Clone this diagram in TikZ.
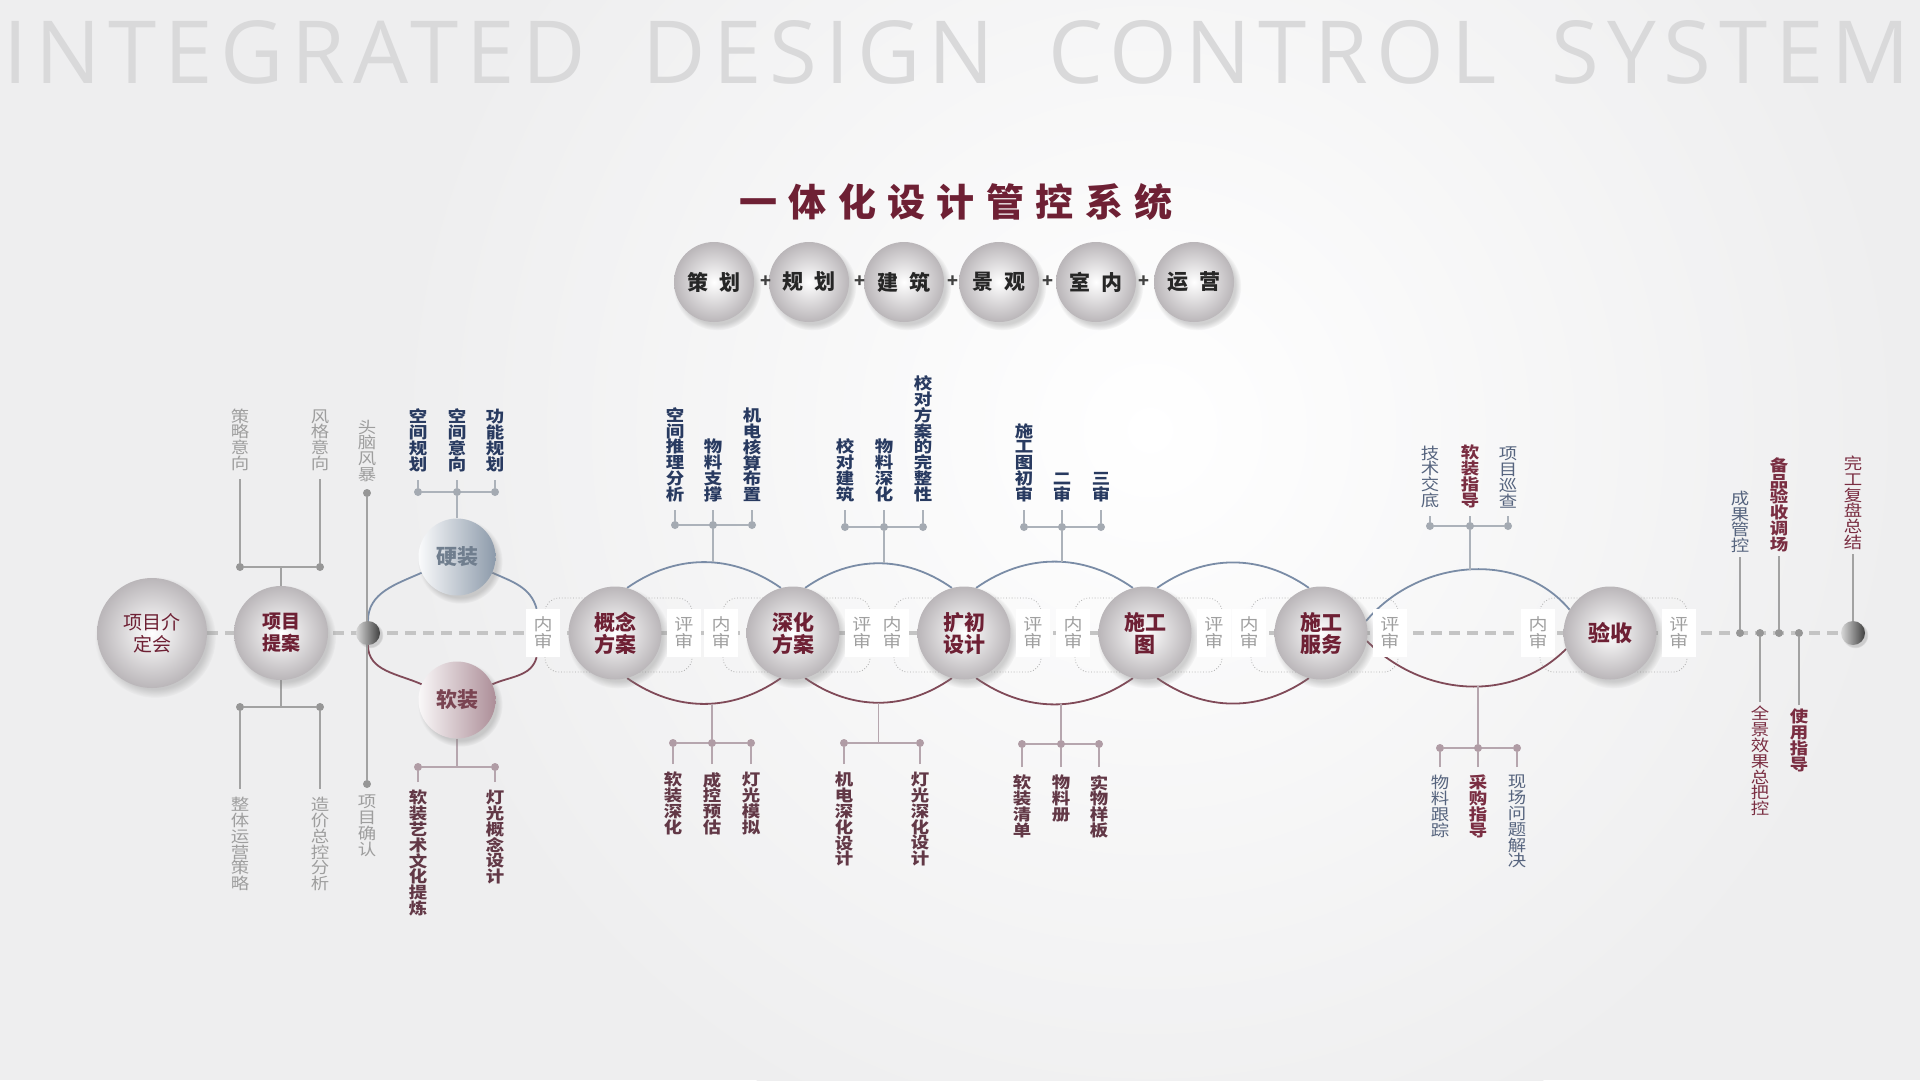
\documentclass[tikz,border=0pt]{standalone}
\usepackage{fontspec}
\setmainfont{Noto Sans CJK SC}
\newfontfamily\bannerfont[LetterSpace=9]{Open Sans}
\newfontfamily\headfont[LetterSpace=30]{Noto Sans CJK SC}
\newfontfamily\tagfont[FakeStretch=1.15]{Noto Sans CJK SC}
\usepackage{xcolor}
\usepackage{tikz}
\usetikzlibrary{positioning,shadows,backgrounds}

% let CJK strings break between characters (stacked labels)
\XeTeXlinebreaklocale "zh"
\XeTeXlinebreakskip=0pt plus 1pt
\lineskiplimit=-20pt

\definecolor{wine}{RGB}{110,32,52}
\definecolor{rosewood}{RGB}{122,46,66}
\definecolor{navy}{RGB}{40,58,96}
\definecolor{mauve}{RGB}{98,56,70}
\definecolor{slate}{RGB}{86,100,126}
\definecolor{ashtext}{RGB}{158,158,158}
\definecolor{arcblue}{RGB}{122,140,166}
\definecolor{arcred}{RGB}{128,74,88}
\definecolor{twigtop}{RGB}{172,178,186}
\definecolor{twigbot}{RGB}{182,166,174}
\definecolor{twigash}{RGB}{162,162,162}
\definecolor{beadtop}{RGB}{164,170,178}
\definecolor{beadbot}{RGB}{176,156,165}
\definecolor{beadash}{RGB}{150,150,150}
\definecolor{dashgray}{RGB}{196,196,196}
\definecolor{revgray}{RGB}{160,160,160}
\definecolor{framegray}{RGB}{170,170,170}
\definecolor{ballrim}{RGB}{186,182,185}
\definecolor{hardedge}{RGB}{140,154,170}
\definecolor{softedge}{RGB}{172,142,152}
\definecolor{hardtext}{RGB}{112,126,142}
\definecolor{softtext}{RGB}{122,68,82}
\definecolor{paper}{RGB}{238,238,239}
\definecolor{bannergray}{RGB}{217,217,218}

\begin{document}
\begin{tikzpicture}[x=1pt, y=-1pt,
  stage/.style={circle, minimum size=93pt, inner sep=0pt, inner color=white, outer color=ballrim,
    circular drop shadow={shadow xshift=3pt, shadow yshift=-4pt, opacity=0.35},
    text=wine, align=center, font=\bfseries\fontsize{21}{22}\selectfont},
  topball/.style={stage, minimum size=80pt, text=black!85, font=\bfseries\fontsize{21}{22}\selectfont},
  hardball/.style={stage, minimum size=77pt, left color=white!96!arcblue, right color=hardedge, text=hardtext},
  softball/.style={stage, minimum size=77pt, left color=white!96!arcred, right color=softedge, text=softtext},
  knob/.style={circle, minimum size=24pt, inner sep=0pt, left color=black!15, right color=black!75,
    circular drop shadow={shadow xshift=2pt, shadow yshift=-2pt, opacity=0.3}},
  joiner/.style={text=black!75, font=\bfseries\fontsize{18}{20}\selectfont},
  review/.style={fill=white, text=revgray, align=center, inner sep=0pt, minimum width=34pt,
    minimum height=48pt, font=\tagfont\fontsize{16.5}{17}\selectfont},
  revframe/.style={draw=framegray, dotted, line width=0.8pt, rounded corners=14pt},
  tag/.style={text width=22pt, align=center, inner sep=0pt},
  ghost/.style={tag, text=ashtext, font=\tagfont\fontsize{16}{15.8}\selectfont},
  navytag/.style={tag, text=navy, font=\tagfont\bfseries\fontsize{16}{15.8}\selectfont},
  mauvetag/.style={tag, text=mauve, font=\tagfont\bfseries\fontsize{16}{15.8}\selectfont},
  slatetag/.style={tag, text=slate, font=\tagfont\fontsize{16}{15.8}\selectfont},
  rosetag/.style={tag, text=rosewood, font=\tagfont\bfseries\fontsize{16}{15.8}\selectfont},
  bead/.style={circle, inner sep=0pt, minimum size=8pt, fill=beadtop},
  twig/.style={line width=1.2pt},
  toparc/.style={draw=arcblue, line width=1.8pt},
  botarc/.style={draw=arcred, line width=1.8pt},
  mainline/.style={draw=dashgray, line width=3.5pt, dash pattern=on 11pt off 7pt}
]

% Page and backdrop
\useasboundingbox (0,0) rectangle (1920,1080);
\begin{scope}[on background layer]
\fill[paper] (0,0) rectangle (1920,1080);
\shade[inner color=white, outer color=paper] (1150,430) circle (760pt);
\end{scope}

% Titles
\node[anchor=base west, inner sep=0pt, text=bannergray, font=\bannerfont\fontsize{87}{90}\selectfont] (banner) at (3,83) {INTEGRATED\hspace{26pt} DESIGN\hspace{24pt} CONTROL\hspace{24pt} SYSTEM};
\node[text=wine, font=\headfont\bfseries\fontsize{38}{42}\selectfont] (headline) at (956,202) {一体化设计管控系统};

% Disciplines row
\node[topball] (plan) at (714,282) {策\enspace 划};
\node[topball] (zoning) at (809,282) {规\enspace 划};
\node[topball] (arch) at (904,282) {建\enspace 筑};
\node[topball] (land) at (999,282) {景\enspace 观};
\node[topball] (inter) at (1096,282) {室\enspace 内};
\node[topball] (ops) at (1194,282) {运\enspace 营};
\node[joiner] (join1) at (766,282) {+};
\node[joiner] (join2) at (860,282) {+};
\node[joiner] (join3) at (953,282) {+};
\node[joiner] (join4) at (1048,282) {+};
\node[joiner] (join5) at (1144,282) {+};

% Stages on the main line
\node[stage, minimum size=110pt, font=\fontsize{19}{22}\selectfont] (kickoff) at (152,633) {项目介\\定会};
\node[stage, minimum size=94pt, font=\bfseries\fontsize{19}{22}\selectfont] (proposal) at (281,633) {项目\\提案};
\node[knob] (hub) at (368,633) {};
\node[hardball] (hard) at (457,557) {硬装};
\node[softball] (soft) at (457,700) {软装};
\node[stage] (concept) at (615,633) {概念\\方案};
\node[stage] (deep) at (793,633) {深化\\方案};
\node[stage] (prelim) at (964,633) {扩初\\设计};
\node[stage] (cdraw) at (1145,633) {施工\\图};
\node[stage] (service) at (1321,633) {施工\\服务};
\node[stage, font=\bfseries\fontsize{22}{24}\selectfont] (accept) at (1610,633) {验收};
\node[knob] (finish) at (1853,633) {};

% Review labels
\node[review, left=8pt of concept] (conceptin) {内\\审};
\node[review, right=5pt of concept] (conceptout) {评\\审};
\node[review, left=8pt of deep] (deepin) {内\\审};
\node[review, right=5pt of deep] (deepout) {评\\审};
\node[review, left=8pt of prelim] (prelimin) {内\\审};
\node[review, right=5pt of prelim] (prelimout) {评\\审};
\node[review, left=8pt of cdraw] (cdrawin) {内\\审};
\node[review, right=5pt of cdraw] (cdrawout) {评\\审};
\node[review, left=8pt of service] (servicein) {内\\审};
\node[review, right=5pt of service] (serviceout) {评\\审};
\node[review, left=8pt of accept] (acceptin) {内\\审};
\node[review, right=5pt of accept] (acceptout) {评\\审};

% Proposal branches
\node[ghost, anchor=south] (pa1) at (240,471) {策略意向};
\node[ghost, anchor=south] (pa2) at (320,471) {风格意向};
\node[bead, fill=beadash] (pa1d) at (240,567) {};
\node[bead, fill=beadash] (pa2d) at (320,567) {};
\node[ghost, anchor=north] (pb1) at (240,797) {整体运营策略};
\node[ghost, anchor=north] (pb2) at (320,797) {造价总控分析};
\node[bead, fill=beadash] (pb1d) at (240,707) {};
\node[bead, fill=beadash] (pb2d) at (320,707) {};

% Hub branches
\node[ghost, anchor=south] (ha) at (367,482) {头脑风暴};
\node[bead, fill=beadash] (had) at (367,493) {};
\node[ghost, anchor=north] (hb) at (367,795) {项目确认};
\node[bead, fill=beadash] (hbd) at (367,784) {};

% Hard / soft branches
\node[navytag, anchor=south] (hd1) at (418,472) {空间规划};
\node[navytag, anchor=south] (hd2) at (457,472) {空间意向};
\node[navytag, anchor=south] (hd3) at (495,472) {功能规划};
\node[bead] (hd1d) at (418,492) {};
\node[bead] (hd2d) at (457,492) {};
\node[bead] (hd3d) at (495,492) {};
\node[mauvetag, anchor=north] (sf1) at (418,790) {软装艺术文化提炼};
\node[mauvetag, anchor=north] (sf2) at (495,790) {灯光概念设计};
\node[bead, fill=beadbot] (sf1d) at (418,767) {};
\node[bead, fill=beadbot] (sf2d) at (495,767) {};

% Concept to deepening
\node[navytag, anchor=south] (at1) at (675,502) {空间推理分析};
\node[navytag, anchor=south] (at2) at (713,502) {物料支撑};
\node[navytag, anchor=south] (at3) at (752,502) {机电核算布置};
\node[bead] (at1d) at (675,525) {};
\node[bead] (at2d) at (713,525) {};
\node[bead] (at3d) at (752,525) {};
\node[mauvetag, anchor=north] (ab1) at (673,772) {软装深化};
\node[mauvetag, anchor=north] (ab2) at (712,772) {成控预估};
\node[mauvetag, anchor=north] (ab3) at (751,772) {灯光模拟};
\node[bead, fill=beadbot] (ab1d) at (673,743) {};
\node[bead, fill=beadbot] (ab2d) at (712,743) {};
\node[bead, fill=beadbot] (ab3d) at (751,743) {};

% Deepening to preliminary
\node[navytag, anchor=south] (bt1) at (845,502) {校对建筑};
\node[navytag, anchor=south] (bt2) at (884,502) {物料深化};
\node[navytag, anchor=south] (bt3) at (923,502) {校对方案的完整性};
\node[bead] (bt1d) at (845,527) {};
\node[bead] (bt2d) at (884,527) {};
\node[bead] (bt3d) at (923,527) {};
\node[mauvetag, anchor=north] (bb1) at (844,772) {机电深化设计};
\node[mauvetag, anchor=north] (bb2) at (920,772) {灯光深化设计};
\node[bead, fill=beadbot] (bb1d) at (844,743) {};
\node[bead, fill=beadbot] (bb2d) at (920,743) {};

% Preliminary to construction drawings
\node[navytag, anchor=south] (ct1) at (1024,502) {施工图初审};
\node[navytag, anchor=south] (ct2) at (1062,502) {二审};
\node[navytag, anchor=south] (ct3) at (1101,502) {三审};
\node[bead] (ct1d) at (1024,527) {};
\node[bead] (ct2d) at (1062,527) {};
\node[bead] (ct3d) at (1101,527) {};
\node[mauvetag, anchor=north] (cb1) at (1022,775) {软装清单};
\node[mauvetag, anchor=north] (cb2) at (1061,775) {物料册};
\node[mauvetag, anchor=north] (cb3) at (1099,775) {实物样板};
\node[bead, fill=beadbot] (cb1d) at (1022,744) {};
\node[bead, fill=beadbot] (cb2d) at (1061,744) {};
\node[bead, fill=beadbot] (cb3d) at (1099,744) {};

% Site service to acceptance
\node[slatetag, anchor=south] (et1) at (1430,508) {技术交底};
\node[rosetag, anchor=south] (et2) at (1470,508) {软装指导};
\node[slatetag, anchor=south] (et3) at (1508,508) {项目巡查};
\node[bead] (et1d) at (1430,526) {};
\node[bead] (et2d) at (1470,526) {};
\node[bead] (et3d) at (1508,526) {};
\node[slatetag, anchor=north] (eb1) at (1440,775) {物料跟踪};
\node[rosetag, anchor=north] (eb2) at (1478,775) {采购指导};
\node[slatetag, anchor=north] (eb3) at (1517,775) {现场问题解决};
\node[bead, fill=beadbot] (eb1d) at (1440,748) {};
\node[bead, fill=beadbot] (eb2d) at (1478,748) {};
\node[bead, fill=beadbot] (eb3d) at (1517,748) {};

% After acceptance
\node[slatetag, anchor=south] (rk1) at (1740,553) {成果管控};
\node[rosetag, font=\tagfont\fontsize{16}{15.8}\selectfont, anchor=north] (rk2) at (1760,706) {全景效果总把控};
\node[rosetag, anchor=south] (rk3) at (1779,552) {备品验收调场};
\node[rosetag, anchor=north] (rk4) at (1799,709) {使用指导};
\node[rosetag, font=\tagfont\fontsize{16}{15.8}\selectfont, anchor=south] (rk5) at (1853,550) {完工复盘总结};
\node[bead, fill=beadash] (rk1d) at (1740,633) {};
\node[bead, fill=beadash] (rk2d) at (1760,633) {};
\node[bead, fill=beadash] (rk3d) at (1779,633) {};
\node[bead, fill=beadash] (rk4d) at (1799,633) {};

\begin{scope}[on background layer]
% main line and review frames
\draw[mainline] (kickoff) -- (finish);
\draw[revframe] ([shift={(-70,-35)}]concept.center) rectangle ([shift={(77,39)}]concept.center);
\draw[revframe] ([shift={(-70,-35)}]deep.center) rectangle ([shift={(77,39)}]deep.center);
\draw[revframe] ([shift={(-70,-35)}]prelim.center) rectangle ([shift={(77,39)}]prelim.center);
\draw[revframe] ([shift={(-70,-35)}]cdraw.center) rectangle ([shift={(77,39)}]cdraw.center);
\draw[revframe] ([shift={(-70,-35)}]service.center) rectangle ([shift={(77,39)}]service.center);
\draw[revframe] ([shift={(-70,-35)}]accept.center) rectangle ([shift={(77,39)}]accept.center);

% hard / soft split
\draw[toparc] (hub) to[out=90,in=204] (hard) to[out=-24,in=105] (conceptin);
\draw[botarc] (hub) to[out=-90,in=156] (soft) to[out=24,in=-105] (conceptin);

% stage lenses
\draw[toparc] (concept.75) to[out=35,in=145] coordinate[pos=0.5] (lensAt) (deep.105);
\draw[botarc] (concept.-75) to[out=-35,in=-145] coordinate[pos=0.5] (lensAb) (deep.-105);
\draw[toparc] (deep.75) to[out=35,in=145] coordinate[pos=0.5] (lensBt) (prelim.105);
\draw[botarc] (deep.-75) to[out=-35,in=-145] coordinate[pos=0.5] (lensBb) (prelim.-105);
\draw[toparc] (prelim.75) to[out=35,in=145] coordinate[pos=0.5] (lensCt) (cdraw.105);
\draw[botarc] (prelim.-75) to[out=-35,in=-145] coordinate[pos=0.5] (lensCb) (cdraw.-105);
\draw[toparc] (cdraw.75) to[out=35,in=145] (service.105);
\draw[botarc] (cdraw.-75) to[out=-35,in=-145] (service.-105);
\draw[toparc] (service.15) to[out=50,in=130] coordinate[pos=0.5] (lensEt) (accept.150);
\draw[botarc] (service.-10) to[out=-45,in=-135] coordinate[pos=0.5] (lensEb) (accept.-160);

% proposal and hub twigs
\draw[twig, twigash, shorten <=8pt] (pa1) -- (pa1d);
\draw[twig, twigash, shorten <=8pt] (pa2) -- (pa2d);
\draw[twig, twigash] (pa1d) -- (pa2d);
\draw[twig, twigash] (proposal) -- (proposal |- pa1d);
\draw[twig, twigash, shorten <=8pt] (pb1) -- (pb1d);
\draw[twig, twigash, shorten <=8pt] (pb2) -- (pb2d);
\draw[twig, twigash] (pb1d) -- (pb2d);
\draw[twig, twigash] (proposal) -- (proposal |- pb1d);
\draw[twig, twigash] (had) -- (hbd);

% hard / soft twigs
\draw[twig, twigtop, shorten <=8pt] (hd1) -- (hd1d);
\draw[twig, twigtop, shorten <=8pt] (hd2) -- (hd2d);
\draw[twig, twigtop, shorten <=8pt] (hd3) -- (hd3d);
\draw[twig, twigtop] (hd1d) -- (hd3d);
\draw[twig, twigtop] (hard) -- (hd2d);
\draw[twig, twigbot, shorten <=8pt] (sf1) -- (sf1d);
\draw[twig, twigbot, shorten <=8pt] (sf2) -- (sf2d);
\draw[twig, twigbot] (sf1d) -- (sf2d);
\draw[twig, twigbot] (soft) -- (soft |- sf1d);

% lens twigs
\draw[twig, twigtop, shorten <=8pt] (at1) -- (at1d);
\draw[twig, twigtop, shorten <=8pt] (at2) -- (at2d);
\draw[twig, twigtop, shorten <=8pt] (at3) -- (at3d);
\draw[twig, twigtop] (at1d) -- (at3d);
\draw[twig, twigtop] (at2d) -- (at2d |- lensAt);
\draw[twig, twigbot, shorten <=8pt] (ab1) -- (ab1d);
\draw[twig, twigbot, shorten <=8pt] (ab2) -- (ab2d);
\draw[twig, twigbot, shorten <=8pt] (ab3) -- (ab3d);
\draw[twig, twigbot] (ab1d) -- (ab3d);
\draw[twig, twigbot] (ab2d) -- (ab2d |- lensAb);

\draw[twig, twigtop, shorten <=8pt] (bt1) -- (bt1d);
\draw[twig, twigtop, shorten <=8pt] (bt2) -- (bt2d);
\draw[twig, twigtop, shorten <=8pt] (bt3) -- (bt3d);
\draw[twig, twigtop] (bt1d) -- (bt3d);
\draw[twig, twigtop] (bt2d) -- (bt2d |- lensBt);
\draw[twig, twigbot, shorten <=8pt] (bb1) -- (bb1d);
\draw[twig, twigbot, shorten <=8pt] (bb2) -- (bb2d);
\draw[twig, twigbot] (bb1d) -- (bb2d);
\draw[twig, twigbot] (lensBb) -- (lensBb |- bb1d);

\draw[twig, twigtop, shorten <=8pt] (ct1) -- (ct1d);
\draw[twig, twigtop, shorten <=8pt] (ct2) -- (ct2d);
\draw[twig, twigtop, shorten <=8pt] (ct3) -- (ct3d);
\draw[twig, twigtop] (ct1d) -- (ct3d);
\draw[twig, twigtop] (ct2d) -- (ct2d |- lensCt);
\draw[twig, twigbot, shorten <=8pt] (cb1) -- (cb1d);
\draw[twig, twigbot, shorten <=8pt] (cb2) -- (cb2d);
\draw[twig, twigbot, shorten <=8pt] (cb3) -- (cb3d);
\draw[twig, twigbot] (cb1d) -- (cb3d);
\draw[twig, twigbot] (cb2d) -- (cb2d |- lensCb);

\draw[twig, twigtop, shorten <=8pt] (et1) -- (et1d);
\draw[twig, twigtop, shorten <=8pt] (et2) -- (et2d);
\draw[twig, twigtop, shorten <=8pt] (et3) -- (et3d);
\draw[twig, twigtop] (et1d) -- (et3d);
\draw[twig, twigtop] (et2d) -- (et2d |- lensEt);
\draw[twig, twigbot, shorten <=8pt] (eb1) -- (eb1d);
\draw[twig, twigbot, shorten <=8pt] (eb2) -- (eb2d);
\draw[twig, twigbot, shorten <=8pt] (eb3) -- (eb3d);
\draw[twig, twigbot] (eb1d) -- (eb3d);
\draw[twig, twigbot] (eb2d) -- (eb2d |- lensEb);

% closing twigs
\draw[twig, twigash, shorten <=4pt] (rk1) -- (rk1d);
\draw[twig, twigash, shorten <=4pt] (rk2) -- (rk2d);
\draw[twig, twigash, shorten <=4pt] (rk3) -- (rk3d);
\draw[twig, twigash, shorten <=4pt] (rk4) -- (rk4d);
\draw[twig, twigash, shorten <=4pt] (rk5) -- (finish);
\end{scope}

\end{tikzpicture}
\end{document}
